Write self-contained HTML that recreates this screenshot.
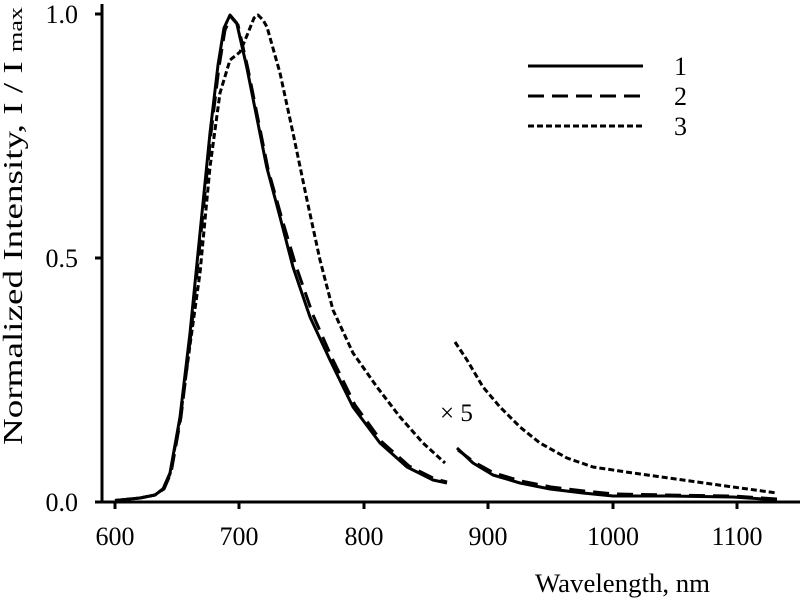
<!DOCTYPE html>
<html><head><meta charset="utf-8"><style>
html,body{margin:0;padding:0;background:#fff;}
svg{display:block;}
text{font-family:"Liberation Serif",serif;fill:#000;}
</style></head><body>
<svg width="800" height="600" viewBox="0 0 800 600" xmlns="http://www.w3.org/2000/svg">
<g stroke="#000" stroke-width="3" fill="none">
<line x1="102" y1="4" x2="102" y2="502"/>
<line x1="100.5" y1="502" x2="800" y2="502"/>
<line x1="95" y1="14" x2="102" y2="14"/>
<line x1="95" y1="258" x2="102" y2="258"/>
<line x1="95" y1="502" x2="102" y2="502"/>
<line x1="115" y1="502" x2="115" y2="509"/>
<line x1="239" y1="502" x2="239" y2="509"/>
<line x1="364" y1="502" x2="364" y2="509"/>
<line x1="488" y1="502" x2="488" y2="509"/>
<line x1="613" y1="502" x2="613" y2="509"/>
<line x1="737" y1="502" x2="737" y2="509"/>
</g>
<g font-size="26" text-anchor="end">
<text x="78" y="23">1.0</text>
<text x="78" y="267">0.5</text>
<text x="78" y="511">0.0</text>
</g>
<g font-size="26" text-anchor="middle">
<text x="115" y="545">600</text>
<text x="239" y="545">700</text>
<text x="364" y="545">800</text>
<text x="488" y="545">900</text>
<text x="613" y="545">1000</text>
<text x="737" y="545">1100</text>
</g>
<text x="535" y="592" font-size="26" textLength="175" lengthAdjust="spacingAndGlyphs">Wavelength, nm</text>
<text font-size="27" transform="translate(22,445) rotate(-90)" textLength="438" lengthAdjust="spacingAndGlyphs">Normalized Intensity, I / I <tspan font-size="19">max</tspan></text>
<text x="440" y="421" font-size="25">× 5</text>
<g fill="none" stroke="#000" stroke-width="3" stroke-linejoin="round">
<path d="M115,500.5 L140,498 L155,495 L163,489 L170,473 L180,417 L190,333 L200,233 L210,133 L218,65 L224,28 L230,15 L236.7,23 L246.7,67 L256.7,117 L266.7,167 L280,217 L293,267 L310,317 L330,360 L353,407 L380,443 L407,467 L433,480 L447,483"/>
<path d="M457,448 L473,463 L493,475 L520,483 L550,489 L583,493 L613,496 L667,496 L733,497 L777,500"/>
<path stroke-dasharray="16,8" d="M115,500.5 L140,498 L155,495 L164,489 L171,473 L181,417 L191,333 L201,233 L211,133 L219,67 L225,30 L231,17 L238,25 L248,69 L258,119 L268,169 L282,219 L296,266 L313,315 L332,358 L355,405 L382,442 L409,466 L435,479 L447,482"/>
<path stroke-dasharray="16,8" d="M458,450 L474,462 L494,473 L521,481 L551,487 L584,491 L614,494 L667,495 L733,496 L777,499"/>
<path stroke-dasharray="6,3" d="M115,500.5 L140,498 L155,495 L163,489 L170,474 L180,420 L190,345 L200,273 L210,167 L220,93 L230,60 L240,52 L248,33 L254,18 L258,15 L263,20 L267,27 L280,73 L293,133 L307,200 L320,260 L333,310 L353,353 L377,387 L400,417 L423,443 L445,463"/>
<path stroke-dasharray="6,3" d="M455,342 L467,360 L483,387 L500,407 L520,427 L540,443 L567,458 L593,467 L633,473 L683,480 L733,487 L777,493"/>
<line x1="528" y1="66" x2="643" y2="66"/>
<line x1="528" y1="96" x2="643" y2="96" stroke-dasharray="16,8"/>
<line x1="528" y1="126" x2="643" y2="126" stroke-dasharray="6,3"/>
</g>
<g font-size="26">
<text x="674" y="75">1</text>
<text x="674" y="105">2</text>
<text x="674" y="135">3</text>
</g>
</svg>
</body></html>
